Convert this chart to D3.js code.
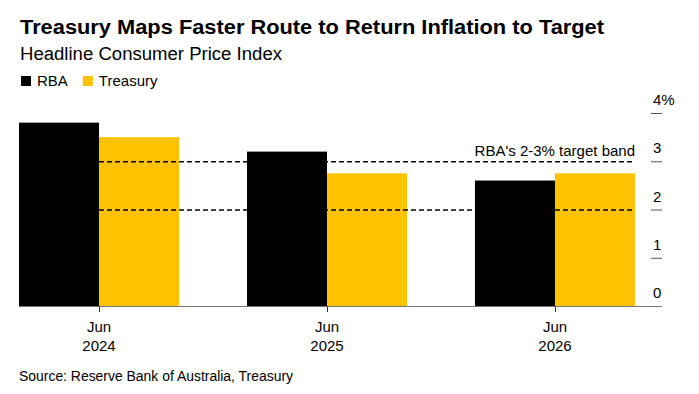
<!DOCTYPE html>
<html>
<head>
<meta charset="utf-8">
<script src="https://cdn.jsdelivr.net/npm/d3@7"></script>
<style>
  body { margin: 0; background: #fff; }
  svg text { font-family: "Liberation Sans", Arial, sans-serif; fill: #000; }
</style>
</head>
<body>
<div id="chart"></div>
<script>
let periods = ["Jun 2024", "Jun 2025", "Jun 2026"];
let series = ["RBA", "Treasury"];
let rba = [3.8, 3.2, 2.6];
let treasury = [3.5, 2.75, 2.75];
let band = [2, 3];
let y_ticks = [0, 1, 2, 3, 4];
let colors = { RBA: "#000000", Treasury: "#ffc200" };

let W = 699, H = 394;
let svg = d3.select("div#chart").append("svg")
    .attr("width", W)
    .attr("height", H);

let m = { left: 19, right: 635, top: 113, bottom: 306 };

let x = d3.scaleBand().domain(periods).range([m.left, m.right]).paddingInner(0.298).paddingOuter(0);
let xs = d3.scaleBand().domain(series).range([0, x.bandwidth()]);
let y = d3.scaleLinear().domain([0, 4]).range([m.bottom, m.top]);

// title block
svg.append("text").attr("x", 20).attr("y", 34)
    .attr("font-size", 20).attr("font-weight", "bold")
    .attr("textLength", 584).attr("lengthAdjust", "spacingAndGlyphs")
    .text("Treasury Maps Faster Route to Return Inflation to Target");
svg.append("text").attr("x", 20).attr("y", 60)
    .attr("font-size", 18)
    .attr("textLength", 262).attr("lengthAdjust", "spacingAndGlyphs")
    .text("Headline Consumer Price Index");

// legend
let lg = svg.append("g").attr("transform", "translate(21, 76)");
let lx = 0;
series.forEach(s => {
    lg.append("rect").attr("x", lx).attr("y", 0).attr("width", 10).attr("height", 10).attr("fill", colors[s]);
    let t = lg.append("text").attr("x", lx + 16).attr("y", 10).attr("font-size", 15).text(s);
    lx += 16 + t.node().getComputedTextLength() + 15;
});

// bars
let rows = periods.map((p, i) => ({ period: p, RBA: rba[i], Treasury: treasury[i] }));
let g = svg.selectAll("g.period").data(rows).enter().append("g")
    .attr("class", "period")
    .attr("transform", d => `translate(${x(d.period)},0)`);
g.selectAll("rect").data(d => series.map(s => ({ key: s, value: d[s] }))).enter().append("rect")
    .attr("x", d => xs(d.key))
    .attr("width", xs.bandwidth())
    .attr("y", d => y(d.value))
    .attr("height", d => y(0) - y(d.value))
    .attr("fill", d => colors[d.key]);

// target band
svg.selectAll("line.band").data(band).enter().append("line")
    .attr("x1", m.left).attr("x2", m.right)
    .attr("y1", d => y(d) + 0.5).attr("y2", d => y(d) + 0.5)
    .attr("stroke", "#000").attr("stroke-width", 1.3)
    .attr("stroke-dasharray", "5,3");
svg.append("text").attr("x", m.right).attr("y", y(3) - 5)
    .attr("text-anchor", "end").attr("font-size", 15)
    .text("RBA's 2-3% target band");

// y axis on the right
let ya = svg.append("g");
ya.selectAll("line").data(y_ticks).enter().append("line")
    .attr("x1", 651).attr("x2", 662)
    .attr("y1", d => y(d) + 0.5).attr("y2", d => y(d) + 0.5)
    .attr("stroke", "#555");
ya.selectAll("text").data(y_ticks).enter().append("text")
    .attr("x", 653).attr("y", d => y(d) - 8)
    .attr("font-size", 15)
    .text(d => d === 4 ? "4%" : d);

// x axis
svg.append("line").attr("x1", m.left).attr("x2", 662)
    .attr("y1", m.bottom + 0.5).attr("y2", m.bottom + 0.5)
    .attr("stroke", "#777");
let xa = svg.selectAll("g.xtick").data(periods).enter().append("g")
    .attr("class", "xtick")
    .attr("transform", d => `translate(${x(d) + x.bandwidth() / 2},0)`);
xa.append("line").attr("x1", 0.5).attr("x2", 0.5)
    .attr("y1", m.bottom).attr("y2", m.bottom + 6).attr("stroke", "#333");
xa.append("text").attr("y", 332).attr("text-anchor", "middle").attr("font-size", 15)
    .text(d => d.split(" ")[0]);
xa.append("text").attr("y", 351).attr("text-anchor", "middle").attr("font-size", 15)
    .text(d => d.split(" ")[1]);

svg.append("text").attr("x", 19).attr("y", 381).attr("font-size", 14)
    .attr("fill", "#333")
    .attr("textLength", 274).attr("lengthAdjust", "spacingAndGlyphs")
    .text("Source: Reserve Bank of Australia, Treasury");
</script>
</body>
</html>
